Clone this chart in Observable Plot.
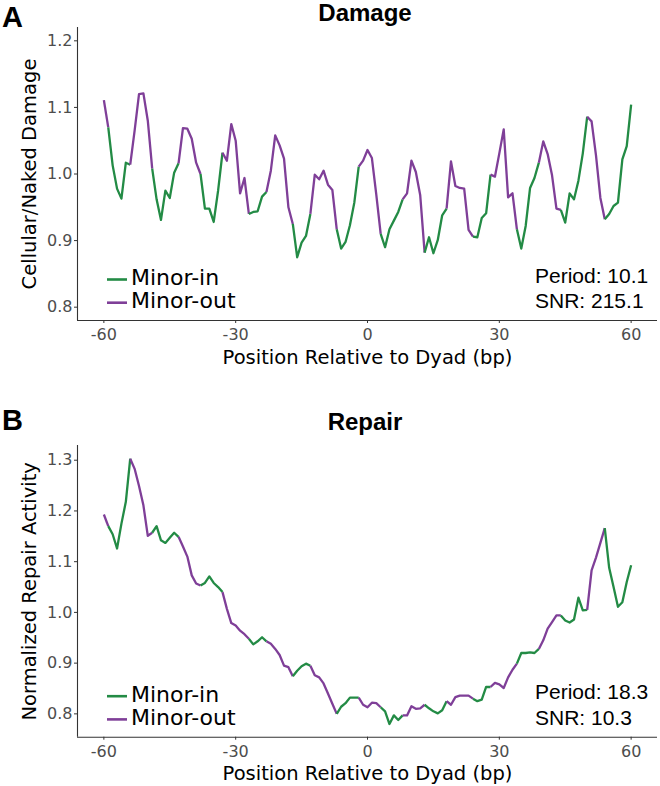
<!DOCTYPE html>
<html><head><meta charset="utf-8">
<script src="https://cdn.jsdelivr.net/npm/d3@7"></script>
<script src="https://cdn.jsdelivr.net/npm/@observablehq/plot@0.6"></script>
<style>
body{margin:0;background:#fff;}
#root{position:relative;width:660px;height:786px;overflow:hidden;}
.panel{position:absolute;left:0;width:660px;}
.panel svg{display:block;}
</style></head><body><div id="root"><div class="panel" id="pA" style="top:0"></div><div class="panel" id="pB" style="top:390px"></div></div>
<script>
// ---- data ----
const positions = d3.range(-60, 61); // bp relative to dyad
const groups = ["Minor-in", "Minor-out"];
const groupColors = ["#238b45", "#7f3f98"];
// boundaries of alternating minor-out / minor-in segments (first segment is Minor-out)
const segmentBounds = [-60, -59, -54, -49, -43, -38, -33, -27, -23, -17, -13, -7, -2, 3, 8, 13, 18, 24, 28, 34, 39, 44, 50, 54, 60];
const xTicks = [-60, -30, 0, 30, 60];
const damageTicks = [0.8, 0.9, 1.0, 1.1, 1.2];
const repairTicks = [0.8, 0.9, 1.0, 1.1, 1.2, 1.3];

const damage = [
 1.111, 1.070, 1.013, 0.978, 0.963, 1.017, 1.014, 1.065, 1.120, 1.121,
 1.080, 1.008, 0.962, 0.931, 0.975, 0.964, 1.002, 1.016, 1.069, 1.068,
 1.053, 1.017, 1.000, 0.948, 0.948, 0.928, 0.975, 1.032, 1.020, 1.075,
 1.050, 0.971, 0.994, 0.940, 0.943, 0.944, 0.966, 0.973, 1.005, 1.058,
 1.043, 1.023, 0.950, 0.925, 0.875, 0.897, 0.907, 0.940, 0.999, 0.992,
 1.005, 0.984, 0.976, 0.917, 0.888, 0.898, 0.923, 0.957, 1.011, 1.020,
 1.036,
 1.024, 0.969, 0.910, 0.890, 0.917, 0.930, 0.943, 0.962, 0.971, 1.020,
 1.003, 0.968, 0.882, 0.905, 0.881, 0.901, 0.938, 0.948, 1.019, 0.982,
 0.979, 0.978, 0.916, 0.906, 0.905, 0.934, 0.941, 0.999, 0.996, 1.031,
 1.067, 0.965, 0.971, 0.917, 0.888, 0.922, 0.979, 0.994, 1.017, 1.049,
 1.030, 0.998, 0.948, 0.946, 0.927, 0.971, 0.962, 0.990, 1.031, 1.086,
 1.079, 1.028, 0.964, 0.932, 0.940, 0.952, 0.957, 1.022, 1.042, 1.104
];
const repair = [
 1.193, 1.170, 1.154, 1.126, 1.175, 1.218, 1.303, 1.283, 1.249, 1.211,
 1.151, 1.157, 1.170, 1.142, 1.137, 1.147, 1.157, 1.149, 1.130, 1.110,
 1.073, 1.057, 1.053, 1.058, 1.071, 1.058, 1.050, 1.040, 1.007, 0.979,
 0.974, 0.964, 0.957, 0.948, 0.937, 0.943, 0.951, 0.943, 0.938, 0.928,
 0.916, 0.895, 0.892, 0.874, 0.885, 0.894, 0.899, 0.895, 0.876, 0.872,
 0.860, 0.840, 0.820, 0.800, 0.814, 0.821, 0.832, 0.832, 0.832, 0.818,
 0.813,
 0.822, 0.821, 0.813, 0.805, 0.780, 0.797, 0.788, 0.797, 0.797, 0.815,
 0.810, 0.811, 0.818, 0.811, 0.805, 0.801, 0.807, 0.825, 0.818, 0.833,
 0.836, 0.836, 0.836, 0.830, 0.825, 0.828, 0.853, 0.853, 0.861, 0.858,
 0.851, 0.872, 0.887, 0.899, 0.920, 0.920, 0.921, 0.920, 0.928, 0.945,
 0.968, 0.981, 0.994, 0.994, 0.984, 0.980, 0.986, 1.029, 1.004, 1.005,
 1.083, 1.108, 1.137, 1.166, 1.088, 1.050, 1.011, 1.020, 1.060, 1.093
];

const FONT_AX = "DejaVu Sans, sans-serif";
const FONT_AR = "Liberation Sans, Arial, sans-serif";

function buildSegments(values) {
  const rows = [];
  for (let i = 0; i < segmentBounds.length - 1; i++) {
    const group = i % 2 === 0 ? "Minor-out" : "Minor-in";
    positions.forEach((p, k) => {
      if (p >= segmentBounds[i] && p <= segmentBounds[i + 1]) rows.push({x: p, y: values[k], seg: i, group});
    });
  }
  return rows;
}

function makePanel(el, cfg) {
  const W = 660, ML = 77, MR = 3;
  const xDomain = [-66, 66];
  const rows = buildSegments(cfg.values);
  const svg = Plot.plot({
    width: W, height: cfg.height,
    marginLeft: ML, marginRight: MR, marginTop: cfg.marginTop, marginBottom: cfg.marginBottom,
    style: {fontFamily: FONT_AX, background: "#fff", overflow: "visible"},
    x: {domain: xDomain},
    y: {domain: cfg.yDomain},
    color: {domain: groups, range: groupColors},
    marks: [
      Plot.axisX({ticks: xTicks, tickSize: 3, tickPadding: 5, tickFormat: d => String(d), label: null,
                  fontSize: 16, fill: "#4d4d4d", stroke: "#333"}),
      Plot.axisY({ticks: cfg.yTicks, tickSize: 3, tickPadding: 2, tickFormat: d => d.toFixed(1), label: null,
                  fontSize: 16, fill: "#4d4d4d", stroke: "#333"}),
      Plot.ruleX([xDomain[0]], {stroke: "#333", strokeWidth: 1.1}),
      Plot.ruleY([cfg.yDomain[0]], {stroke: "#333", strokeWidth: 1.1}),
      Plot.line(rows, {x: "x", y: "y", z: "seg", stroke: "group", strokeWidth: 2.3,
                       strokeLinejoin: "round", strokeLinecap: "butt"}),
      Plot.text(["Position Relative to Dyad (bp)"], {frameAnchor: "bottom", dy: 43, lineAnchor: "bottom",
                 textAnchor: "middle", fontSize: 19.5, fill: "#000", fontFamily: FONT_AX}),
      Plot.text([cfg.yLabel], {frameAnchor: "left", dx: -48, rotate: -90, lineAnchor: "middle",
                 textAnchor: "middle", fontSize: 19.5, fill: "#000", fontFamily: FONT_AX})
    ]
  });
  el.appendChild(svg);
  const s = d3.select(svg);
  const fb = cfg.height - cfg.marginBottom; // frame bottom in svg px
  const ft = cfg.marginTop;
  // panel title and letter
  s.append("text").attr("x", 365).attr("y", ft - cfg.titleGap).attr("text-anchor", "middle")
    .attr("font-family", FONT_AR).attr("font-weight", "bold").attr("font-size", 24).attr("fill", "#000").text(cfg.title);
  s.append("text").attr("x", 2).attr("y", cfg.letterY).attr("text-anchor", "start")
    .attr("font-family", FONT_AR).attr("font-weight", "bold").attr("font-size", 29).attr("fill", "#000").text(cfg.letter);
  // legend
  const leg = [{g: "Minor-in", dyLine: -40.5, dyText: -35}, {g: "Minor-out", dyLine: -17.3, dyText: -12}];
  leg.forEach((d) => {
    const c = groupColors[groups.indexOf(d.g)];
    s.append("line").attr("x1", 107).attr("x2", 127).attr("y1", fb + d.dyLine).attr("y2", fb + d.dyLine)
      .attr("stroke", c).attr("stroke-width", 2.6);
    s.append("text").attr("x", 131).attr("y", fb + d.dyText).attr("text-anchor", "start").attr("font-family", FONT_AX)
      .attr("font-size", 22).attr("fill", "#000").text(d.g);
  });
  // period / SNR annotation
  s.append("text").attr("x", 535).attr("y", fb - 37.5).attr("text-anchor", "start").attr("font-family", FONT_AR)
    .attr("font-size", 21).attr("fill", "#000").text("Period: " + cfg.period);
  s.append("text").attr("x", 535).attr("y", fb - 12).attr("text-anchor", "start").attr("font-family", FONT_AR)
    .attr("font-size", 21).attr("fill", "#000").text("SNR: " + cfg.snr);
}

makePanel(document.getElementById("pA"), {
  values: damage, height: 390, marginTop: 27, marginBottom: 70,
  yDomain: [0.78, 1.22], yTicks: damageTicks, yLabel: "Cellular/Naked Damage",
  title: "Damage", titleGap: 6, letter: "A", letterY: 27, period: "10.1", snr: "215.1"
});
makePanel(document.getElementById("pB"), {
  values: repair, height: 396, marginTop: 55, marginBottom: 49.3,
  yDomain: [0.754, 1.329], yTicks: repairTicks, yLabel: "Normalized Repair Activity",
  title: "Repair", titleGap: 15, letter: "B", letterY: 40, period: "18.3", snr: "10.3"
});
</script></body></html>
